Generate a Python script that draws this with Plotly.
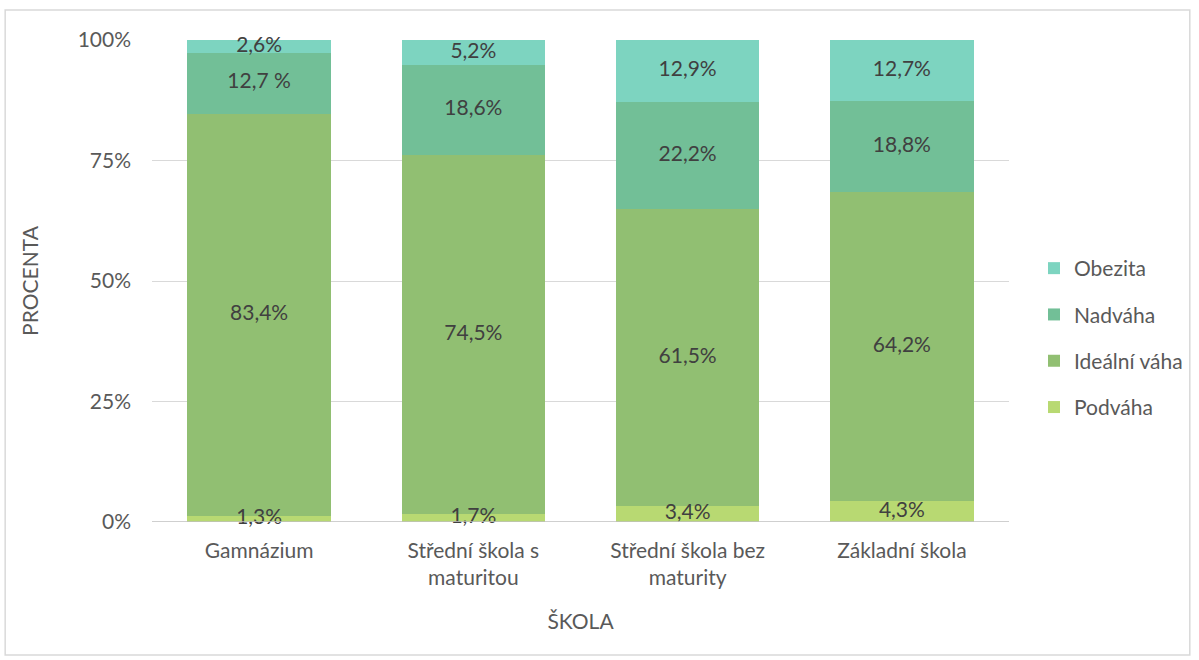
import plotly.graph_objects as go

categories = ["Gamnázium", "Střední škola s<br>maturitou", "Střední škola bez<br>maturity", "Základní škola"]
series_names = ["Podváha", "Ideální váha", "Nadváha", "Obezita"]
podvaha = [1.3, 1.7, 3.4, 4.3]
idealni = [83.4, 74.5, 61.5, 64.2]
nadvaha = [12.7, 18.6, 22.2, 18.8]
obezita = [2.6, 5.2, 12.9, 12.7]
label_podvaha = ["1,3%", "1,7%", "3,4%", "4,3%"]
label_idealni = ["83,4%", "74,5%", "61,5%", "64,2%"]
label_nadvaha = ["12,7 %", "18,6%", "22,2%", "18,8%"]
label_obezita = ["2,6%", "5,2%", "12,9%", "12,7%"]
colors = ["#b8d972", "#91bf72", "#72bf97", "#7dd4c0"]
tick_vals = [0, 25, 50, 75, 100]
tick_text = ["0%", "25%", "50%", "75%", "100%"]

FONT = "Lato"
FS = 21
values = [podvaha, idealni, nadvaha, obezita]
labels = [label_podvaha, label_idealni, label_nadvaha, label_obezita]

fig = go.Figure()
n = len(series_names)
for i, (name, vals, col) in enumerate(zip(series_names, values, colors)):
    fig.add_trace(go.Bar(
        x=categories, y=vals, name=name, marker=dict(color=col, line=dict(width=0)),
        legendgroup=name, legendrank=n - i, hoverinfo="skip",
    ))

# labels centred in each segment
base = [0.0] * len(categories)
for vals, labs in zip(values, labels):
    mids = [b + v / 2 for b, v in zip(base, vals)]
    fig.add_trace(go.Scatter(
        x=categories, y=mids, text=labs, mode="text", showlegend=False,
        textfont=dict(family=FONT, size=FS, color="#404040"), hoverinfo="skip",
        cliponaxis=False,
    ))
    base = [b + v for b, v in zip(base, vals)]

L, R, T, B = 152, 189, 40, 138
W, H = 1199, 660
pw, ph = W - L - R, H - T - B

fig.update_layout(
    width=W, height=H, barmode="stack", bargap=0.33,
    plot_bgcolor="white", paper_bgcolor="white",
    margin=dict(l=L, r=R, t=T, b=B),
    font=dict(family=FONT, size=FS, color="#595959"),
    legend=dict(
        traceorder="grouped", tracegroupgap=16,
        x=(1034 - L) / pw, xanchor="left", y=(522 - 338) / ph, yanchor="middle",
        font=dict(family=FONT, size=FS, color="#595959"),
        itemwidth=30,
    ),
    xaxis=dict(
        showgrid=False, showline=False, ticks="", zeroline=False,
        ticklabelstandoff=14,
        tickfont=dict(family=FONT, size=FS, color="#595959"),
        title=dict(text="ŠKOLA", font=dict(family=FONT, size=FS, color="#595959"), standoff=26),
    ),
    yaxis=dict(
        range=[0, 100], tickvals=tick_vals, ticktext=tick_text,
        showgrid=True, gridcolor="#d9d9d9", gridwidth=1, zeroline=False,
        showline=False, ticks="", ticklabelstandoff=20,
        tickfont=dict(family=FONT, size=FS, color="#595959"),
        title=dict(text="PROCENTA", font=dict(family=FONT, size=FS, color="#595959"), standoff=33),
    ),
    shapes=[
        dict(type="line", xref="paper", yref="y", x0=0, x1=1, y0=0, y1=0,
             line=dict(color="#bfbfbf", width=1.5), layer="above"),
        dict(type="rect", xref="paper", yref="paper",
             x0=(5 - L) / pw, x1=(1191 - L) / pw,
             y0=(H - 655 - B) / ph, y1=(H - 10 - B) / ph,
             line=dict(color="#d9d9d9", width=1.5), fillcolor="rgba(0,0,0,0)", layer="below"),
    ],
)

fig.write_html("out.html", config={"displayModeBar": False},
               post_script="document.body.style.margin='0';document.body.style.overflow='hidden';")
